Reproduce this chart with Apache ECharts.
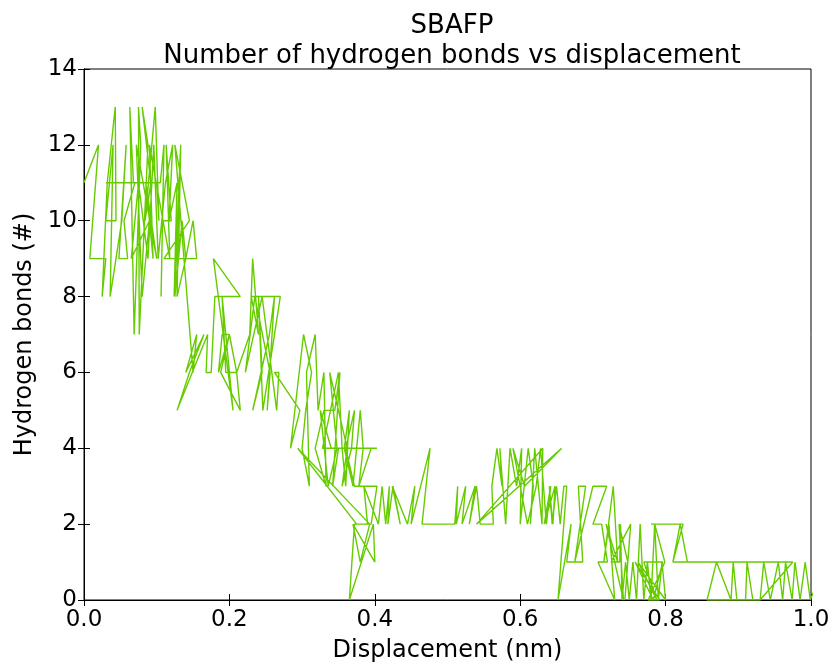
<!DOCTYPE html>
<html>
<head>
<meta charset="utf-8">
<script src="https://cdn.jsdelivr.net/npm/echarts@6/dist/echarts.min.js"></script>
<style>html,body{margin:0;padding:0;background:#fff;}#c{width:833px;height:668px;}</style>
</head>
<body>
<div id="c"></div>
<script>
// Displacement (nm) along the trajectory
const displacement = [
0.000,0.020,0.012,0.008,0.030,0.025,0.032,0.043,0.044,0.030,
0.040,0.036,0.052,0.058,0.048,0.060,0.055,0.070,0.030,0.068,
0.063,0.069,0.078,0.075,0.076,0.088,0.080,0.092,0.084,0.098,
0.103,0.100,0.060,0.105,0.110,0.106,0.108,0.120,0.113,0.118,
0.090,0.095,0.085,0.100,0.072,0.080,0.090,0.065,0.075,0.088,
0.096,0.102,0.112,0.122,0.117,0.128,0.124,0.133,0.130,0.140,
0.135,0.125,0.131,0.128,0.140,0.150,0.155,0.110,0.145,0.125,
0.150,0.155,0.140,0.165,0.145,0.128,0.170,0.168,0.175,0.180,
0.215,0.178,0.205,0.190,0.195,0.210,0.200,0.185,0.190,0.200,
0.188,0.215,0.210,0.228,0.232,0.240,0.230,0.270,0.246,0.240,
0.245,0.232,0.255,0.262,0.252,0.256,0.235,0.222,0.245,0.265,
0.268,0.262,0.297,0.284,0.302,0.313,0.305,0.300,0.310,0.306,
0.318,0.322,0.330,0.333,0.318,0.330,0.345,0.352,0.342,0.350,
0.328,0.350,0.355,0.360,0.365,0.358,0.370,0.380,0.384,0.378,
0.395,0.403,0.340,0.325,0.336,0.348,0.338,0.362,0.355,0.368,
0.372,0.360,0.372,0.403,0.395,0.375,0.294,0.393,0.380,0.370,
0.400,0.398,0.365,0.372,0.390,0.385,0.405,0.410,0.415,0.420,
0.418,0.425,0.435,0.424,0.445,0.455,0.450,0.476,0.465,0.510,
0.514,0.512,0.525,0.520,0.538,0.530,0.540,0.545,0.563,0.561,
0.568,0.575,0.572,0.580,0.586,0.595,0.602,0.600,0.611,0.618,
0.614,0.620,0.625,0.630,0.631,0.540,0.657,0.606,0.590,0.610,
0.622,0.628,0.636,0.642,0.633,0.648,0.645,0.640,0.644,0.650,
0.655,0.660,0.664,0.652,0.670,0.664,0.686,0.680,0.690,0.675,
0.700,0.719,0.700,0.712,0.720,0.707,0.730,0.722,0.715,0.728,
0.734,0.718,0.742,0.736,0.748,0.744,0.752,0.725,0.737,0.738,
0.740,0.745,0.750,0.755,0.760,0.765,0.770,0.775,0.780,0.785,
0.790,0.795,0.800,0.762,0.788,0.770,0.796,0.783,0.758,0.792,
0.776,0.799,0.785,0.780,0.824,0.810,0.820,0.830,0.810,0.975,
0.930,0.857,0.870,0.890,0.893,0.898,0.910,0.912,0.920,0.930,
0.935,0.944,0.955,0.961,0.965,0.974,0.978,0.985,0.992,0.999,
1.020
];
// Number of hydrogen bonds at each step
const hbonds = [
11,12,10,9,9,8,11,13,10,10,
12,8,10,12,9,9,10,11,11,11,
13,7,12,13,7,12,13,11,10,13,
10,11,11,11,12,8,10,10,12,9,
12,9,11,9,12,8,10,9,11,9,
12,9,11,12,10,11,8,12,9,9,
10,8,11,8,9,10,9,9,10,12,
6,7,6,7,6,5,7,6,6,8,
8,9,5,8,6,6,7,6,7,7,
6,5,6,7,9,7,8,8,5,8,
6,5,7,8,5,6,8,6,8,5,
6,6,5,4,7,6,5,4,3,6,
7,5,6,3,4,5,5,6,3,4,
4,6,4,3,5,4,3,5,4,3,
4,4,4,5,3,4,6,4,3,4,
5,4,3,3,2,2,4,2,1,2,
1,2,0,2,2,3,2,3,2,3,
2,3,2,3,2,3,2,4,2,2,
3,2,3,2,3,2,3,2,2,3,
4,3,4,2,4,3,4,2,4,3,
2,4,3,2,4,2,4,3,4,2,
3,4,2,3,2,3,2,3,2,3,
2,3,3,0,2,1,1,3,3,1,
3,3,2,2,1,1,0,2,1,3,
1,2,0,2,1,0,2,1,1,2,
0,1,0,1,0,2,0,1,0,2,
0,1,0,1,0,1,1,0,1,0,
0,1,2,2,2,1,2,1,1,1,
0,0,1,0,1,0,0,1,0,0,
1,0,1,0,1,0,1,0,1,0,
1
];
const xTicks = [0.0,0.2,0.4,0.6,0.8,1.0];
const yTicks = [0,2,4,6,8,10,12,14];

const points = displacement.map((d,i)=>[d,hbonds[i]]);
const chart = echarts.init(document.getElementById('c'));
const font = 'DejaVu Sans';
const axisLine = {show:true, lineStyle:{color:'#000', width:1}};
const tick = {show:true, inside:true, length:6, lineStyle:{color:'#000'}};
chart.setOption({
  animation:false,
  backgroundColor:'#fff',
  title:{
    text:'SBAFP\nNumber of hydrogen bonds vs displacement',
    left:447, top:6, textAlign:'center',
    textStyle:{fontFamily:font, fontSize:26, fontWeight:'normal', color:'#000', lineHeight:30}
  },
  grid:{left:84, right:22, top:69, bottom:65, show:true, borderColor:'#000', borderWidth:1, backgroundColor:'transparent'},
  xAxis:[{
    type:'value', min:xTicks[0], max:xTicks[xTicks.length-1], interval:0.2,
    axisLine, axisTick:tick, splitLine:{show:false},
    axisLabel:{fontFamily:font, fontSize:23, color:'#000', margin:9, formatter:v=>v.toFixed(1)},
    name:'Displacement (nm)', nameLocation:'middle', nameGap:39,
    nameTextStyle:{fontFamily:font, fontSize:24, color:'#000'}
  },{
    type:'value', position:'top', min:0, max:1, interval:0.2,
    axisLine, axisTick:tick, axisLabel:{show:false}, splitLine:{show:false}
  }],
  yAxis:[{
    type:'value', min:yTicks[0], max:yTicks[yTicks.length-1], interval:2,
    axisLine, axisTick:tick, splitLine:{show:false},
    axisLabel:{fontFamily:font, fontSize:23, color:'#000', margin:7},
    name:'Hydrogen bonds (#)', nameLocation:'middle', nameGap:36,
    nameTextStyle:{fontFamily:font, fontSize:24, color:'#000'}
  },{
    type:'value', position:'right', min:0, max:14, interval:2,
    axisLine, axisTick:tick, axisLabel:{show:false}, splitLine:{show:false}
  }],
  series:[{
    type:'line', data:points, showSymbol:false, symbol:'none', clip:true,
    lineStyle:{color:'#66cc00', width:1.4}
  }]
});
</script>
</body>
</html>
